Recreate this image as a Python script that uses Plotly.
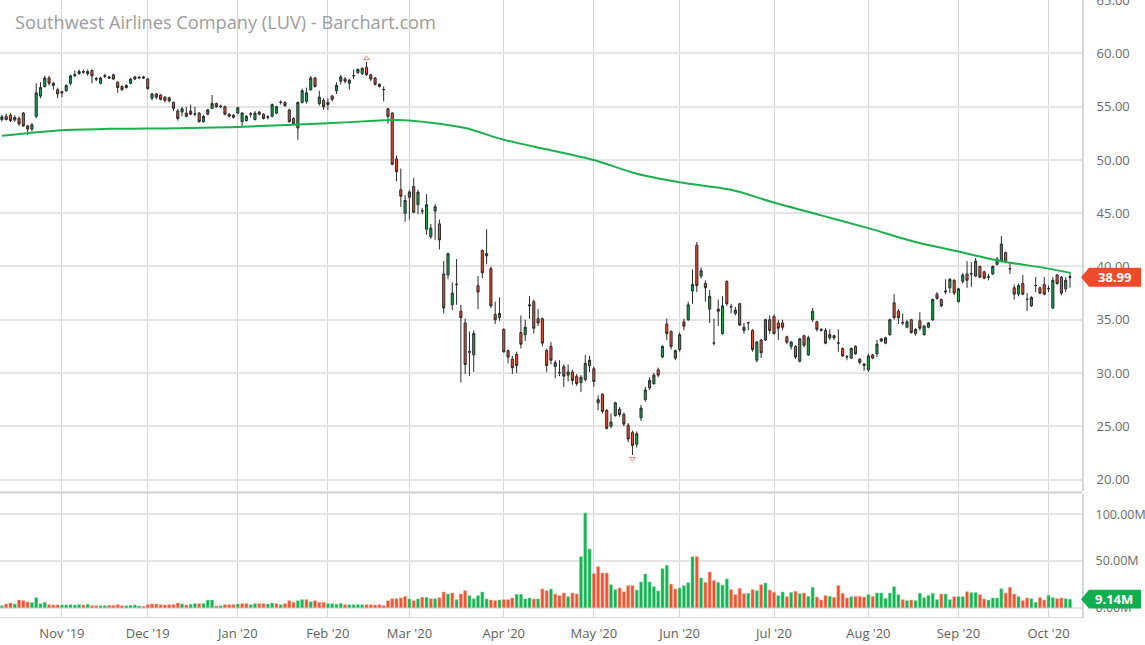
import pandas as pd
import plotly.graph_objects as go
from plotly.subplots import make_subplots

# ---------------- data ----------------
start_date = "2019-10-14"
end_date = "2020-10-08"
holidays = ["2019-11-28", "2019-12-25", "2020-01-01", "2020-01-20", "2020-02-17",
            "2020-04-10", "2020-05-25", "2020-07-03", "2020-09-07"]

opens = [53.80,54.10,54.20,53.75,53.90,54.40,53.20,52.90,54.10,56.00,
         56.90,57.70,57.20,56.60,56.40,56.50,57.20,57.90,58.10,58.30,
         58.10,58.40,57.65,57.20,57.85,57.80,58.00,57.30,56.90,56.80,
         57.20,57.80,57.70,57.80,57.60,55.80,56.20,56.10,55.90,55.85,
         55.40,54.60,54.50,54.40,54.60,54.30,54.40,53.60,54.30,54.85,
         55.30,55.00,55.00,54.30,54.20,54.40,53.60,53.70,54.30,53.80,
         54.50,54.30,54.00,54.10,54.40,55.40,55.40,54.70,53.90,53.00,
         55.40,55.50,56.60,57.70,55.30,55.60,55.40,56.00,56.50,57.40,
         57.60,57.20,57.90,58.20,58.10,58.70,58.00,57.70,57.10,56.60,
         54.80,54.40,50.10,47.20,45.00,46.50,47.50,45.80,45.20,43.50,
         42.80,45.20,44.00,39.30,39.20,36.40,38.30,35.80,34.70,31.95,
         31.70,38.20,41.50,41.00,39.80,35.50,35.20,34.10,32.10,31.30,
         31.75,33.80,33.60,36.40,36.70,35.10,35.10,32.10,32.50,30.60,
         30.00,30.60,29.80,30.10,29.70,29.10,29.40,30.70,30.40,27.20,
         28.00,26.50,25.00,26.00,26.60,26.10,25.10,24.40,23.30,25.80,
         27.50,28.60,29.00,30.30,31.50,34.60,33.90,31.40,32.20,34.80,
         35.00,37.70,42.00,39.10,38.40,36.00,32.80,36.00,33.70,38.60,
         36.20,35.60,36.50,34.00,34.70,34.00,31.20,33.10,33.10,35.00,
         35.30,34.70,34.70,33.40,32.50,32.50,31.10,33.50,31.70,35.00,
         34.80,34.10,34.00,33.30,33.50,32.80,32.30,31.50,31.40,32.50,
         31.30,30.85,30.30,31.70,31.80,33.20,32.80,33.60,36.60,35.80,
         34.70,34.30,35.00,33.70,34.90,33.60,34.30,35.00,37.40,36.90,
         37.60,38.00,38.70,36.70,38.60,39.30,39.30,39.10,40.00,39.50,
         39.00,39.30,40.20,40.50,41.30,39.80,38.00,37.40,38.40,36.90,
         36.30,38.20,38.00,38.30,37.90,36.10,39.20,39.00,37.90,39.05]

highs = [54.25,54.35,54.40,54.20,54.10,54.50,53.30,53.45,57.20,57.30,
         57.90,57.90,57.30,56.80,56.50,57.10,58.00,58.40,58.50,58.50,
         58.50,58.50,57.80,57.80,58.10,57.90,58.10,57.40,57.00,57.10,
         57.70,57.90,57.90,57.90,57.70,56.30,56.30,56.20,56.00,55.95,
         55.50,54.80,55.00,55.00,55.20,55.00,54.50,54.20,54.80,56.10,
         55.40,55.20,55.10,54.40,54.30,55.00,54.50,54.20,54.50,54.60,
         54.60,54.40,54.20,55.30,55.10,55.60,55.50,54.80,54.00,55.50,
         56.70,56.80,57.90,57.80,56.50,55.80,55.80,56.10,57.30,58.00,
         57.80,57.60,58.50,58.60,58.70,59.20,58.10,57.80,57.20,56.90,
         54.90,54.50,50.40,49.20,46.70,47.20,48.30,47.20,45.50,46.80,
         44.00,45.85,44.40,40.50,41.30,38.50,40.70,36.40,35.10,33.90,
         34.00,39.10,41.60,43.50,40.00,36.70,37.10,34.20,32.20,31.60,
         32.00,35.40,35.00,37.20,36.90,36.00,35.20,32.30,32.90,31.20,
         31.20,30.80,30.80,30.30,29.90,29.80,31.70,31.60,30.60,27.90,
         28.10,26.60,26.20,27.30,26.80,26.30,25.30,24.60,24.50,27.00,
         28.70,29.60,30.00,30.50,32.60,35.10,34.00,32.20,33.80,35.10,
         36.70,39.70,42.30,39.90,38.70,37.80,35.10,36.90,37.20,38.70,
         36.50,36.20,36.60,34.70,34.80,34.10,33.00,33.20,35.10,35.40,
         35.50,35.00,35.00,33.50,33.00,32.60,33.30,33.60,33.50,36.10,
         34.90,34.20,34.20,34.10,33.60,34.10,32.40,31.70,32.40,32.60,
         31.40,30.90,31.80,31.80,33.10,33.30,33.40,35.10,37.40,36.00,
         35.60,35.00,35.10,34.20,35.70,34.50,34.80,37.00,37.60,37.00,
         38.80,38.90,38.80,38.00,39.40,40.50,40.40,40.80,40.10,39.60,
         39.30,40.10,40.90,42.86,41.40,40.30,38.30,38.40,39.20,37.50,
         37.20,39.00,38.10,39.00,38.20,39.00,39.30,39.10,39.00,39.50]

lows = [53.60,53.70,53.55,53.60,53.20,53.10,52.35,52.70,53.90,55.80,
        56.80,57.00,56.60,55.80,55.90,56.40,57.00,57.80,58.00,58.10,
        57.90,57.20,57.40,57.10,57.70,57.60,57.50,56.30,56.50,56.70,
        57.10,57.50,57.60,57.60,56.60,55.60,55.70,55.60,55.40,55.40,
        54.60,53.70,54.10,54.00,54.20,54.10,53.50,53.50,54.20,54.80,
        54.90,54.85,54.20,54.00,53.90,54.30,53.10,53.60,54.00,53.70,
        54.20,53.80,53.80,54.00,54.30,55.20,55.00,53.50,53.30,51.90,
        55.30,55.30,56.50,56.80,55.10,54.70,54.70,55.50,56.20,57.10,
        57.20,56.60,57.60,58.10,58.00,57.90,57.40,57.00,56.80,55.50,
        53.40,49.50,48.00,45.60,44.20,44.40,45.00,44.90,44.90,43.00,
        42.60,42.50,41.60,35.60,38.80,35.90,36.40,29.10,29.90,29.70,
        30.10,36.00,38.90,40.20,36.10,34.60,34.90,31.90,30.90,29.90,
        30.00,32.30,33.00,35.10,33.70,34.40,32.50,30.10,30.80,29.50,
        29.70,28.70,29.20,28.90,28.80,28.20,29.20,30.10,28.70,26.50,
        26.20,24.70,24.80,25.90,25.90,25.00,23.50,22.30,23.00,25.50,
        27.30,28.40,28.90,29.60,31.40,33.10,32.20,31.20,32.00,34.00,
        34.90,36.50,37.60,38.90,36.70,34.70,32.60,34.40,33.60,36.30,
        35.60,35.40,34.40,33.70,34.00,32.00,31.00,31.40,33.00,33.70,
        33.60,33.10,34.00,32.70,32.20,31.30,31.00,32.40,31.60,34.80,
        33.90,33.90,32.70,33.10,33.10,32.00,31.50,31.20,31.30,31.70,
        30.80,30.20,30.10,31.30,31.50,32.90,32.70,33.50,35.00,34.60,
        34.50,34.20,33.70,33.50,34.00,33.50,34.20,34.90,36.90,36.20,
        37.40,37.50,37.30,36.60,38.40,38.00,38.10,39.00,38.90,38.80,
        38.70,39.20,40.10,40.40,40.30,39.30,36.90,37.20,37.30,35.80,
        36.20,37.60,37.40,37.30,37.60,36.00,38.30,37.30,37.60,38.00]

closes = [54.05,53.80,53.70,54.00,53.40,53.20,52.90,53.30,56.30,56.80,
          57.70,57.20,57.00,56.20,56.30,57.00,57.90,58.00,58.30,58.25,
          58.30,57.90,57.60,57.70,57.90,57.70,57.60,56.80,56.60,57.00,
          57.60,57.60,57.75,57.70,56.70,56.20,55.90,55.70,55.60,55.55,
          54.85,53.90,54.80,54.10,54.30,54.32,53.60,54.10,54.70,55.30,
          55.00,55.05,54.30,54.10,54.00,54.90,54.40,54.10,54.32,54.40,
          54.30,53.90,54.05,55.20,55.00,55.42,55.10,53.60,53.40,55.40,
          56.50,56.30,57.70,56.90,55.90,55.00,55.20,55.70,57.00,57.80,
          57.40,57.50,57.92,58.50,58.60,58.00,57.60,57.10,56.90,56.62,
          54.10,49.60,48.90,46.60,46.20,47.00,45.10,46.97,45.22,45.80,
          43.60,45.60,42.50,36.10,41.20,37.50,38.32,35.20,30.80,32.00,
          33.70,37.60,39.40,41.20,36.30,35.00,35.60,32.00,31.50,30.50,
          30.70,32.70,34.30,36.30,34.20,34.70,32.80,30.70,31.20,30.97,
          30.02,29.70,30.10,29.30,29.00,29.60,30.90,31.20,29.20,27.50,
          26.40,24.80,25.40,27.20,26.10,25.20,23.80,23.20,24.30,26.70,
          28.40,29.30,29.80,29.80,32.50,33.70,32.50,32.10,33.60,34.40,
          36.40,38.30,38.20,39.60,38.00,37.20,32.82,35.80,36.30,36.50,
          36.22,35.90,34.50,34.30,34.72,32.20,32.90,31.90,35.00,34.00,
          33.70,34.20,34.30,32.90,32.90,31.50,33.20,32.60,33.30,35.80,
          34.10,34.00,32.80,33.60,33.30,32.82,31.60,31.52,32.30,31.80,
          31.00,30.70,31.60,31.40,32.70,33.00,33.30,35.00,35.20,35.20,
          34.72,34.80,33.80,34.10,34.20,34.40,34.70,36.90,37.00,36.30,
          37.70,38.80,37.50,37.90,39.20,38.70,39.32,40.50,39.00,38.90,
          39.02,40.00,40.70,42.10,40.40,39.78,37.40,38.20,37.40,36.92,
          37.10,38.22,37.50,37.40,37.92,38.70,38.40,37.50,38.70,38.99]

# volume in millions of shares
volumes = [2.1,3.9,5.0,3.9,8.2,7.5,6.1,5.4,10.7,4.3,
           5.7,3.2,2.9,2.9,2.9,2.9,3.2,2.9,3.2,2.9,
           3.6,2.1,2.1,2.1,2.1,2.5,2.5,3.2,2.1,2.1,
           2.5,2.9,1.8,1.4,3.2,3.9,3.9,3.2,2.9,3.2,
           3.2,5.0,3.9,2.9,3.6,4.3,4.3,4.3,8.2,8.2,
           1.8,2.1,3.2,3.2,3.2,3.9,4.3,4.3,3.2,4.3,
           4.3,4.3,3.9,5.0,4.3,3.2,4.3,7.5,5.7,7.5,
           8.6,8.6,6.4,7.5,5.7,5.7,4.3,4.3,3.6,4.6,
           3.2,3.2,3.2,3.2,3.2,3.2,3.2,2.9,3.2,2.1,
           7.5,9.6,9.6,10.4,12.1,9.3,7.5,9.3,11.1,11.1,
           9.6,9.6,10.7,16.8,14.6,15.7,8.6,14.6,18.2,12.9,
           9.6,12.9,16.8,9.3,8.2,7.5,8.2,8.6,8.6,10.4,
           14.3,14.3,9.3,10.4,9.3,9.3,20.0,18.2,20.0,14.6,
           12.9,15.7,11.8,15.7,14.6,54.6,101.4,62.8,36.4,43.9,
           37.1,37.1,24.6,19.3,21.1,17.1,23.6,23.6,18.9,27.5,
           36.1,27.5,22.5,17.9,41.8,45.3,25.3,20.0,21.1,23.6,
           26.8,54.6,54.6,31.8,27.1,38.2,28.9,27.1,24.3,30.7,
           19.3,13.9,20.7,15.0,15.4,19.3,18.2,24.6,26.4,18.9,
           16.4,12.9,16.8,11.8,16.4,17.5,15.0,15.7,12.1,21.8,
           11.4,8.2,12.9,12.1,11.1,23.6,15.4,10.4,11.8,12.1,
           12.1,11.4,13.9,12.1,15.7,15.7,10.0,15.7,22.5,13.9,
           8.6,7.5,8.2,7.5,15.4,10.7,13.2,15.4,8.6,14.6,
           14.6,8.6,11.8,11.8,11.8,17.1,16.1,16.1,13.9,9.3,
           8.2,10.4,10.4,20.3,15.7,21.8,14.6,11.8,7.5,10.4,
           9.6,5.7,10.7,8.2,13.2,10.7,9.6,10.4,9.6,9.14]

# 200-day moving average, read at sample dates
ma_dates = ["2019-10-14","2019-11-01","2019-11-18","2019-12-02","2020-01-02","2020-02-03",
            "2020-02-20","2020-02-26","2020-03-09","2020-03-19","2020-04-01","2020-04-16",
            "2020-05-01","2020-05-15","2020-06-01","2020-06-17","2020-07-01","2020-07-17",
            "2020-08-03","2020-08-18","2020-09-01","2020-09-16","2020-10-01","2020-10-08"]
ma_values = [52.28,52.80,52.92,52.95,53.10,53.45,53.70,53.75,53.50,53.00,51.90,51.00,
             50.00,48.70,47.90,47.20,46.00,44.80,43.60,42.30,41.40,40.50,39.80,39.40]

title_text = "Southwest Airlines Company (LUV) - Barchart.com"
last_price_label = "38.99"
last_volume_label = "9.14M"
last_volume = 9.14
price_ticks = [20, 25, 30, 35, 40, 45, 50, 55, 60, 65]
volume_ticks = [0, 50, 100]
volume_tick_text = ["0.00M", "50.00M", "100.00M"]

# ---------------- build ----------------
days = pd.bdate_range(start_date, end_date, freq="C", holidays=holidays)
dates = [d.strftime("%Y-%m-%d") for d in days]
assert len(dates) == len(closes), (len(dates), len(closes))

s = pd.Series(days)
first_of_month = s.groupby([s.dt.year, s.dt.month]).first().tolist()
first_of_month = [d for d in first_of_month if d >= pd.Timestamp("2019-11-01")]
tickvals = [d.strftime("%Y-%m-%d") for d in first_of_month]
ticktext = [d.strftime("%b '%y") for d in first_of_month]

GREEN = "#0fa84c"
RED = "#ef4b2b"
VGREEN = "#13b355"
VRED = "#f2502f"

vol_colors = []
vol_lines = []
for i, c in enumerate(closes):
    up = True if i == 0 else c >= closes[i - 1]
    vol_colors.append(VGREEN if up else VRED)
    vol_lines.append("rgba(120,215,150,0.9)" if up else "rgba(250,160,140,0.9)")

fig = make_subplots(rows=2, cols=1, shared_xaxes=True, vertical_spacing=0.0)

fig.add_trace(go.Candlestick(
    x=dates, open=opens, high=highs, low=lows, close=closes,
    increasing=dict(fillcolor=GREEN, line=dict(color="#2a2a2a", width=1)),
    decreasing=dict(fillcolor=RED, line=dict(color="#2a2a2a", width=1)),
    whiskerwidth=0, showlegend=False, hoverinfo="skip"), row=1, col=1)

fig.add_trace(go.Scatter(
    x=ma_dates, y=ma_values, mode="lines", line=dict(color="#1db04f", width=2, shape="spline", smoothing=0.8),
    showlegend=False, hoverinfo="skip"), row=1, col=1)

# high / low markers
i_hi = max(range(len(highs)), key=lambda k: highs[k])
i_lo = min(range(len(lows)), key=lambda k: lows[k])
fig.add_trace(go.Scatter(
    x=[dates[i_hi], dates[i_lo]], y=[highs[i_hi] + 0.35, lows[i_lo] - 0.35], mode="markers",
    marker=dict(symbol=["triangle-up-open", "triangle-down-open"], size=5, color="#f08a78",
                line=dict(width=1, color="#f08a78")),
    showlegend=False, hoverinfo="skip"), row=1, col=1)

fig.add_trace(go.Bar(
    x=dates, y=volumes, marker=dict(color=vol_colors, line=dict(color=vol_lines, width=0.6)),
    showlegend=False, hoverinfo="skip"), row=2, col=1)

W, H = 1145, 645
ml, mr, mt, mb = 0, 63, 0, 28
pw = W - ml - mr
ph = H - mt - mb
price_bottom_px = 491
vol_top_px = 494

fig.update_layout(
    width=W, height=H, margin=dict(l=ml, r=mr, t=mt, b=mb, autoexpand=False),
    paper_bgcolor="white", plot_bgcolor="white",
    bargap=0.3, boxgap=0.3,
    font=dict(family="Open Sans, sans-serif", size=13, color="#6b6b6b"),
)

xr = [-0.44, 251.8]
fig.update_xaxes(type="category", range=xr, tickvals=tickvals, ticktext=ticktext,
                 showgrid=True, gridcolor="#d6d6d6", gridwidth=1, automargin=False,
                 rangeslider_visible=False, ticks="", zeroline=False)
fig.update_xaxes(showticklabels=False, row=1, col=1)
fig.update_xaxes(showticklabels=True, tickfont=dict(size=13, color="#5f5f5f"),
                 showline=True, linecolor="#d9d9d9", linewidth=1, ticklabelstandoff=4,
                 row=2, col=1)

fig.update_yaxes(side="right", range=[18.92, 65.02], tickvals=price_ticks, tickformat=".2f",
                 domain=[(ph - price_bottom_px) / ph, 1.0], automargin=False,
                 showgrid=True, gridcolor="#e5e5e5", gridwidth=2, zeroline=False,
                 showline=True, linecolor="#d6d6d6", linewidth=2, ticks="",
                 ticklabelstandoff=10, ticklabeloverflow="allow",
                 tickfont=dict(size=13, color="#6b6b6b"),
                 row=1, col=1)
fig.update_yaxes(side="right", range=[-9.96, 121.7], tickvals=volume_ticks, ticktext=volume_tick_text,
                 domain=[0, (ph - vol_top_px) / ph], automargin=False,
                 showgrid=True, gridcolor="#e5e5e5", gridwidth=2, zeroline=False,
                 showline=True, linecolor="#d6d6d6", linewidth=2, ticks="",
                 ticklabelstandoff=9, ticklabeloverflow="allow",
                 tickfont=dict(size=12.5, color="#6b6b6b"),
                 row=2, col=1)

# separator between panels
sep_y = (ph - 492.5) / ph
fig.add_shape(type="line", xref="paper", yref="paper", x0=0, x1=1, y0=sep_y, y1=sep_y,
              line=dict(color="#cfcfcf", width=2), layer="above")

# title
fig.add_annotation(xref="paper", yref="paper", x=13 / pw, y=1 - 22 / ph, xanchor="left", yanchor="middle",
                   text=title_text, showarrow=False,
                   font=dict(family="Open Sans, sans-serif", size=18.2, color="#9c9c9c"))

# last price / volume tags
def tag(yref, yval, half, text, color):
    tip = 1081 / pw
    xb = 1089 / pw
    xr_ = 1141 / pw
    path = (f"M {tip},{yval} L {xb},{yval + half} L {xr_},{yval + half} "
            f"L {xr_},{yval - half} L {xb},{yval - half} Z")
    fig.add_shape(type="path", xref="paper", yref=yref, path=path,
                  fillcolor=color, line=dict(color=color, width=0), layer="above")
    fig.add_annotation(xref="paper", yref=yref, x=1114 / pw, y=yval, text=f"<b>{text}</b>",
                       showarrow=False, xanchor="center", yanchor="middle",
                       font=dict(family="Open Sans, sans-serif", size=13, color="white"))

tag("y", closes[-1], 0.9, last_price_label, "#ef4b2b")
tag("y2", last_volume, 10.0, last_volume_label, "#0fae4f")

fig.write_html("out.html", config={"displayModeBar": False},
               post_script="document.body.style.margin='0px';document.body.style.overflow='hidden';")
